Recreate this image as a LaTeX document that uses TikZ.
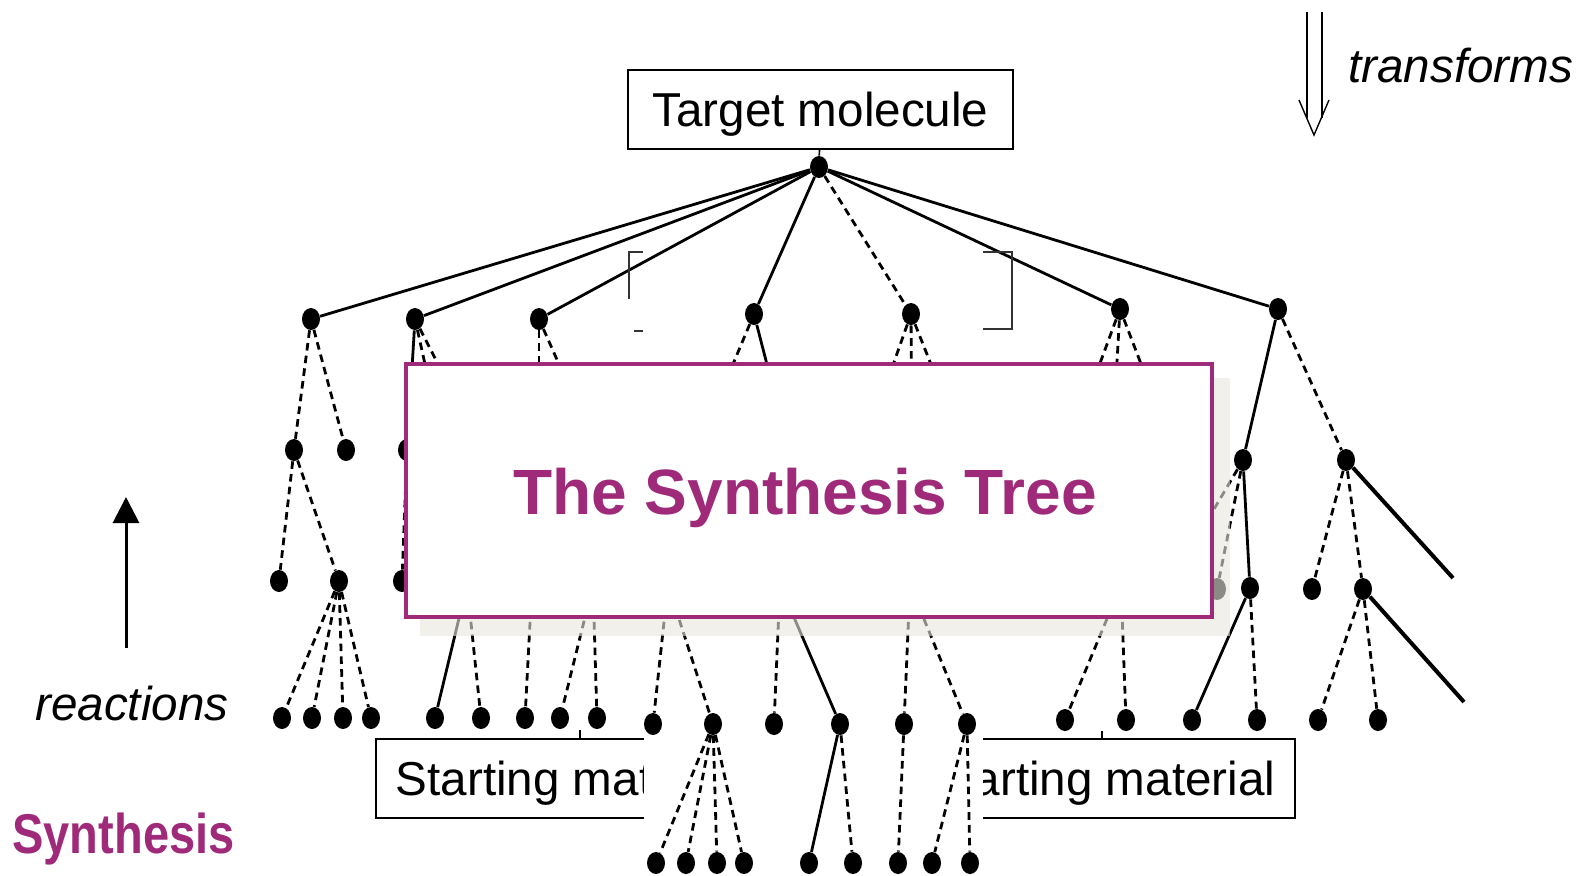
\documentclass[tikz,border=0pt]{standalone}
\usepackage{fontspec}
\setmainfont{Liberation Sans}
\usetikzlibrary{shapes.geometric,arrows.meta}
\definecolor{mag}{RGB}{160,42,122}
\definecolor{shad}{RGB}{232,230,222}
\begin{document}
\begin{tikzpicture}[x=0.5pt,y=-0.5pt,
  dot/.style={ellipse,fill=black,inner sep=0pt,minimum width=9pt,minimum height=11pt},
  sol/.style={line width=1.4pt},
  das/.style={line width=1.4pt,dash pattern=on 3.8pt off 2.6pt},
  thick2/.style={line width=2pt},
  lbox/.style={draw,line width=0.85pt,inner sep=0pt,minimum width=193pt,minimum height=39.5pt,
    text height=17pt,text depth=0pt,font=\fontsize{23.8}{28}\selectfont},
  lbl/.style={inner sep=0pt,anchor=base west,font=\fontsize{23.8}{28}\selectfont\itshape},
  brk/.style={line width=0.8pt,black!80}
]
\useasboundingbox (0,0) rectangle (1581,875);
% starting material boxes
\node[lbox] (sm1) at (569,778.5) {Starting material};
\node[lbox] (sm2) at (1102,778.5) {Starting material};
\coordinate (t1) at (580,730);
\draw[line width=0.85pt] (t1) -- (t1 |- sm1.north);
\coordinate (t2) at (1102,731);
\draw[line width=0.85pt] (t2) -- (sm2.north);
% mask
\fill[white] (644,728) rectangle (983,876);
% target
\node[lbox,minimum width=192.5pt] (target) at (820.5,109.5) {Target molecule};
% dots
\node[dot] (root) at (819,167) {};
\foreach \n/\x/\y in {a/311/319,b/415/319,c/539/319,d/754/314,e/911/314,f/1120/309,g/1278/309,
 a1/294/450,a2/346/450,b1/407/450,b2/444/450,b3/482/450,c1/539/450,c2/597/450,d1/697/450,d2/789/450,
 e1/863/450,e2/912/450,e3/965/450,f1/1068/450,f2/1112/450,f3/1174/450,g1/1243/460,g2/1346/460,
 a11/279/581,a12/339/581,b11/402/581,p1/467/585,p2/532/585,p3/593/585,p4/668/585,p5/780/585,
 p6/910/585,p7/1121/585,g11/1168/587,g12/1217/589,g13/1250/588,g21/1312/589,g22/1363/589,
 a121/282/718,a122/312/718,a123/343/718,a124/371/718,p11/435/718,p12/481/718,p21/525/718,
 p31/560/718,p32/597/718,p41/653/724,p42/713/724,p51/774/724,p52/840/724,p61/904/724,p62/967/724,
 p71/1065/720,p72/1126/720,g131/1192/720,g132/1257/720,g221/1318/720,g222/1378/720,
 p421/656/863,p422/686/863,p423/717/863,p424/744/863,p521/809/863,p522/853/863,p611/898/863,
 p621/932/863,p622/970/863}
 {\node[dot] (\n) at (\x,\y) {};}
\coordinate (gx1) at (1453,578);
\coordinate (gx2) at (1464,702);
% edges
\draw[line width=0.85pt] (target) -- (root);
\foreach \t in {a,b,c,d,f,g} {\draw[sol] (root) -- (\t);}
\draw[das] (root) -- (e);
\foreach \s/\t in {a/a1,a/a2,b/b2,b/b3,c/c1,c/c2,d/d1,e/e1,e/e2,e/e3,f/f1,f/f2,f/f3,g/g2,
 a1/a11,a1/a12,b1/b11,c1/p2,c2/p3,d1/p4,e2/p6,f2/p7,g1/g11,g1/g12,g2/g21,g2/g22,
 a12/a121,a12/a122,a12/a123,a12/a124,p1/p12,p2/p21,p3/p31,p3/p32,p4/p41,p4/p42,p5/p51,
 p6/p61,p6/p62,p7/p71,p7/p72,g13/g132,g22/g221,g22/g222,
 p42/p421,p42/p422,p42/p423,p42/p424,p52/p522,p61/p611,p62/p621,p62/p622}
 {\draw[das] (\s) -- (\t);}
\foreach \s/\t in {b/b1,d/d2,g/g1,b1/p1,d2/p5,g1/g13,p1/p11,p5/p52,g13/g131,p52/p521}
 {\draw[sol] (\s) -- (\t);}
\draw[thick2] (g2) -- (gx1);
\draw[thick2] (g22) -- (gx2);
% brackets
\draw[brk] (643,252) -- (629,252) -- (629,299);
\draw[brk] (634,331) -- (643,331);
\draw[brk] (983,252) -- (1012,252) -- (1012,329) -- (983,329);
% overlay
\fill[shad,fill opacity=0.6] (420,378) rectangle (1230,636);
\node[draw=mag,line width=1.8pt,fill=white,inner sep=0pt,minimum width=403pt,minimum height=126.5pt] (ovl) at (809,490.5) {};
\node[anchor=base,inner sep=0pt,text=mag,font=\fontsize{32}{38}\selectfont\bfseries] (title) at (805,514) {The Synthesis Tree};
% arrows
\coordinate (r0) at (126,648);
\coordinate (r1) at (126,497);
\draw[line width=1.5pt,-{Triangle[width=13pt,length=13pt]}] (r0) -- (r1);
\draw[line width=0.7pt] (1307,12) -- (1307,118);
\draw[line width=0.7pt] (1322,12) -- (1322,118);
\draw[line width=0.7pt] (1299,100) -- (1314,135) -- (1329,100);
% labels
\node[lbl] (tf) at (1348,82) {transforms};
\node[lbl] (rx) at (35,720) {reactions};
\node[anchor=base west,inner sep=0pt,text=mag,font=\fontsize{28}{32}\selectfont\bfseries] (syn) at (12,853) {\scalebox{0.84}[1]{Synthesis}};
\end{tikzpicture}
\end{document}
